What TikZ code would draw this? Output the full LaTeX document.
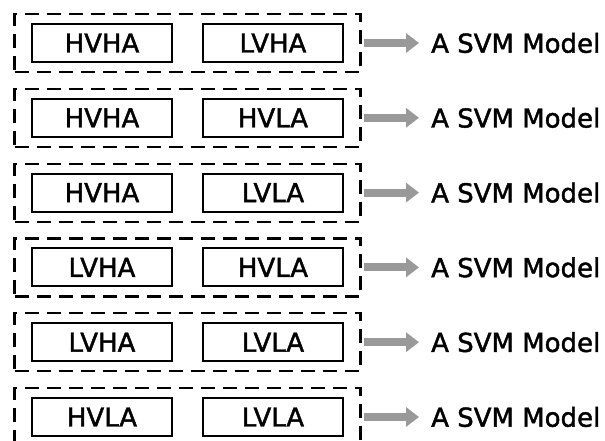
\documentclass[tikz,border=0pt]{standalone}
\usepackage{fontspec}
\setmainfont{DejaVu Sans}
\newfontfamily\labelfont{DejaVu Sans}[FakeBold=1.6]
\usetikzlibrary{arrows.meta}
\begin{document}
\begin{tikzpicture}[x=1pt,y=-1pt,
  group/.style={draw, line width=2.2pt, dash pattern=on 14pt off 8pt, minimum width=346pt, minimum height=58pt, inner sep=0pt},
  cls/.style={draw, line width=2pt, minimum width=140pt, minimum height=38pt, inner sep=0pt, font=\labelfont\fontsize{26}{30}\selectfont},
  modeltxt/.style={anchor=west, inner sep=0pt, font=\labelfont\fontsize{26}{30}\selectfont},
  flow/.style={draw=black!40, line width=8pt, -{Triangle[length=13pt,width=19pt]}}
]
\useasboundingbox (0,0) rectangle (605,441);
\foreach \i/\a/\b in {1/HVHA/LVHA,2/HVHA/HVLA,3/HVHA/LVLA,4/LVHA/HVLA,5/LVHA/LVLA,6/HVLA/LVLA}{
  \pgfmathsetmacro{\yy}{43+74.8*(\i-1)}
  \node[group] (g\i) at (187.5,\yy) {};
  \node[cls] (a\i) at (102,\yy) {\a};
  \node[cls] (b\i) at (273,\yy) {\b};
  \node[modeltxt] (m\i) at (431,\yy) {A SVM Model};
  \coordinate (s\i) at (364,\yy);
  \coordinate (e\i) at (419,\yy);
  \draw[flow] (s\i) -- (e\i);
}
\end{tikzpicture}
\end{document}
